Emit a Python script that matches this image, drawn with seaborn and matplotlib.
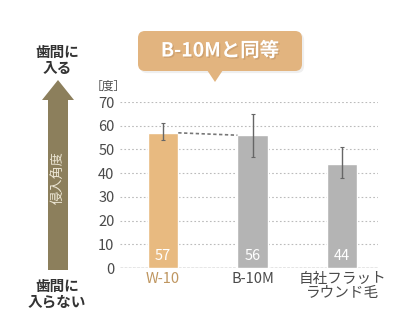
import numpy as np
import pandas as pd
import matplotlib
matplotlib.use("Agg")
import matplotlib.pyplot as plt
import seaborn as sns
from matplotlib.patches import FancyBboxPatch, Polygon, FancyArrow
import matplotlib.patheffects as pe

# data
products = ["W-10", "B-10M", "自社フラット\nラウンド毛"]
angle = [57, 56, 44]
err_low = [54, 47, 38]
err_high = [61, 65, 51]
yticks = [0, 10, 20, 30, 40, 50, 60, 70]

tan = "#e8ba80"
gray = "#b4b4b4"
arrow_col = "#8c7f5c"

sns.set_style("white")
plt.rcParams["font.family"] = ["Noto Sans CJK JP", "DejaVu Sans"]

df = pd.DataFrame({"product": products, "angle": angle})

fig = plt.figure(figsize=(4.04, 3.12), dpi=100)
ax = fig.add_axes([120 / 404, 1 - 268 / 312, 258 / 404, 166 / 312])

sns.barplot(data=df, x="product", y="angle", hue="product",
            palette=[tan, gray, gray], width=0.34, errorbar=None, saturation=1,
            legend=False, ax=ax, zorder=3)

x = np.arange(len(products))
ax.errorbar(x, angle,
            yerr=[np.array(angle) - np.array(err_low), np.array(err_high) - np.array(angle)],
            fmt="none", ecolor="#666666", elinewidth=1.0, capsize=1.5, capthick=0.8, zorder=4)

# dashed link W-10 -> B-10M
ax.plot([x[0] + 0.17, x[1] - 0.17], [angle[0], angle[1]], ls=(0, (2, 1.5)),
        color="#777777", lw=1.2, zorder=4)

for i, v in enumerate(angle):
    ax.text(x[i], 5, str(v), ha="center", va="center", color="white",
            fontsize=10.5, zorder=5)

ax.set_ylim(0, 70)
ax.set_xlim(-0.48, 2.4)
ax.set_yticks(yticks)
ax.yaxis.grid(True, ls=(0, (1.5, 2)), color="#bbbbbb", lw=0.8, zorder=0)
ax.axhline(0, color="#888888", ls=(0, (2, 1)), lw=1.0, zorder=2)
for s in ax.spines.values():
    s.set_visible(False)
ax.set_xlabel("")
ax.set_ylabel("")
ax.tick_params(axis="y", length=0, labelsize=10.5, labelcolor="#4a4a4a", pad=4)
ax.tick_params(axis="x", length=0, labelsize=10.5, labelcolor="#4a4a4a", pad=3)
for lab in ax.get_xticklabels():
    lab.set_linespacing(1.0)
ax.get_xticklabels()[0].set_color("#bf9660")

fig.text(108 / 404, 1 - 86 / 312, "［度］", ha="center", va="center",
         fontsize=8.5, color="#4a4a4a")

# overlay in pixel coords for annotations
ov = fig.add_axes([0, 0, 1, 1], zorder=-1)
ov.set_xlim(0, 404)
ov.set_ylim(312, 0)
ov.axis("off")

ov.add_patch(FancyArrow(58, 270, 0, -190, width=20, head_width=32, head_length=20,
                        length_includes_head=True, color=arrow_col, lw=0))
ov.text(58, 178, "侵入角度", rotation=90, ha="center", va="center",
        color="#ece6d4", fontsize=9.5)
ov.text(57, 60, "歯間に\n入る", ha="center", va="center", fontsize=10.5,
        color="#333333", linespacing=1.0, fontweight="bold")
ov.text(57, 294, "歯間に\n入らない", ha="center", va="center", fontsize=10.5,
        color="#333333", linespacing=1.0, fontweight="bold")

# callout bubble
ov2 = fig.add_axes([0, 0, 1, 1], zorder=5)
ov2.set_xlim(0, 404)
ov2.set_ylim(312, 0)
ov2.axis("off")
ov2.add_patch(FancyBboxPatch((138, 31), 164, 40, boxstyle="round,pad=0,rounding_size=7",
                             fc="#e2b47f", ec="none",
                             path_effects=[pe.withSimplePatchShadow(offset=(1.5, -1.5),
                                                                    shadow_rgbFace="#cccccc")]))
ov2.add_patch(Polygon([[207, 70], [223, 70], [215, 82]], closed=True,
                      fc="#e2b47f", ec="none"))
ov2.text(220, 51, "B-10Mと同等", ha="center", va="center", fontsize=14,
         color="white", fontweight="bold",
         path_effects=[pe.SimplePatchShadow(offset=(1, -1), shadow_rgbFace="#a07850"),
                       pe.Normal()])

fig.savefig("out.png", dpi=100)
